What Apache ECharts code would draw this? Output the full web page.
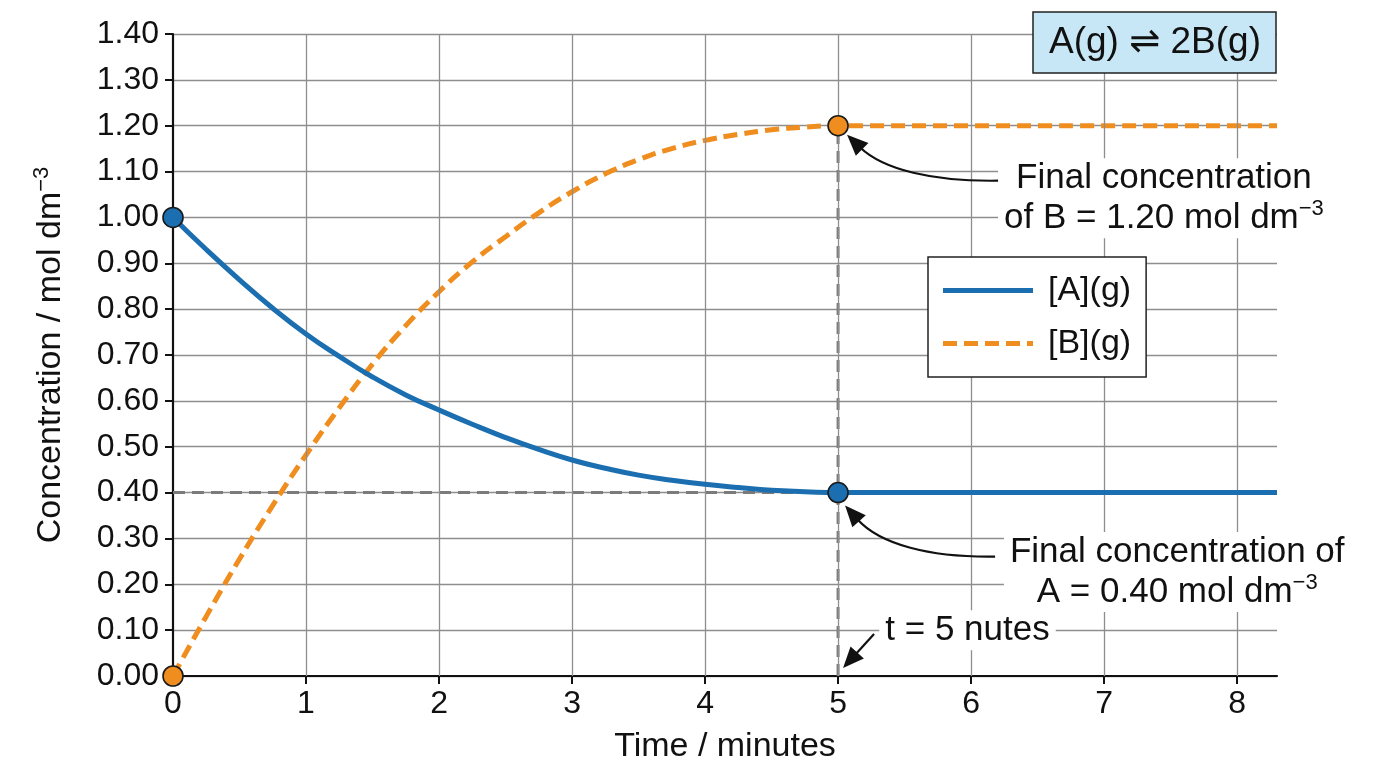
<!DOCTYPE html>
<html>
<head>
<meta charset="utf-8">
<title>A(g) ⇌ 2B(g)</title>
<style>
    html, body { margin: 0; padding: 0; background: #fff; overflow: hidden; }
    #conc-chart { width: 1376px; height: 768px; }
</style>
</head>
<body>
<div id="conc-chart"></div>

<script type="text/javascript" src="https://cdn.jsdelivr.net/npm/echarts@6/dist/echarts.min.js"></script>
<script type="text/javascript">
    // values (t in minutes)
    var timePoints = [0, 0.25, 0.5, 0.75, 1, 1.25, 1.5, 1.75, 2, 2.25, 2.5, 2.75, 3, 3.25, 3.5, 3.75, 4, 4.25, 4.5, 4.75, 5, 8.3]
    var concA = [1.000, 0.930, 0.864, 0.802, 0.746, 0.697, 0.652, 0.613, 0.580, 0.549, 0.520, 0.494, 0.471, 0.453, 0.438, 0.427, 0.418, 0.411, 0.405, 0.402, 0.400, 0.400]
    var concB = [0.000, 0.130, 0.255, 0.372, 0.482, 0.585, 0.680, 0.764, 0.838, 0.903, 0.958, 1.010, 1.056, 1.095, 1.126, 1.150, 1.168, 1.181, 1.191, 1.197, 1.200, 1.200]
    var xTickValues = [0, 1, 2, 3, 4, 5, 6, 7, 8]
    var markedIdx = [0, 20]   // start and equilibrium (t = 5)

    var FONT = "'Liberation Sans', Arial, Helvetica, 'DejaVu Sans', sans-serif"
    var BLUE = '#1b6fb0'
    var ORANGE = '#ef8e1f'
    var GRID = '#8e8e8e'
    var REF = '#7b7b7b'

    function pairs(xs, ys) {
        return xs.map(function (x, i) { return [x, ys[i]] })
    }
    function picked(xs, ys) {
        return markedIdx.map(function (i) { return [xs[i], ys[i]] })
    }

    var eqT = timePoints[markedIdx[1]]
    var eqA = concA[markedIdx[1]]
    var eqB = concB[markedIdx[1]]

    var chart = echarts.init(document.getElementById('conc-chart'))
    var option = {
        animation: false,
        textStyle: { fontFamily: FONT },
        grid: { left: 173, right: 99, top: 34, bottom: 92, containLabel: false, outerBoundsMode: 'none' },
        legend: {
            data: [
                { name: '[A](g)', icon: 'path://M0,0H90V5H0Z' },
                { name: '[B](g)', icon: 'path://M0,0H14V5H0Z M21,0H35V5H21Z M42,0H56V5H42Z M63,0H77V5H63Z M84,0H90V5H84Z' }
            ],
            orient: 'vertical',
            left: 928,
            top: 257,
            padding: [15, 15, 15, 15],
            itemWidth: 90,
            itemHeight: 5,
            itemGap: 16,
            backgroundColor: '#fff',
            borderColor: '#222',
            borderWidth: 1.5,
            borderRadius: 0,
            textStyle: { fontSize: 34, lineHeight: 37, color: '#111', fontFamily: FONT, padding: [0, 0, 0, 10] },
            z: 50
        },
        xAxis: {
            type: 'value',
            min: 0,
            max: 8.3,
            interval: 1,
            name: 'Time / minutes',
            nameLocation: 'middle',
            nameGap: 54,
            nameTextStyle: { fontSize: 34, color: '#111', fontFamily: FONT },
            axisLine: { show: true, onZero: false, lineStyle: { color: '#111', width: 2.2 } },
            axisTick: { show: true, length: 8, customValues: xTickValues, lineStyle: { color: '#111', width: 2 } },
            axisLabel: { fontSize: 32, color: '#111', margin: 12, customValues: xTickValues, fontFamily: FONT },
            splitLine: { show: false }
        },
        yAxis: {
            type: 'value',
            min: 0,
            max: 1.4,
            interval: 0.1,
            name: 'Concentration / mol dm{sup|−3}',
            nameLocation: 'middle',
            nameGap: 102,
            nameTextStyle: {
                fontSize: 34, color: '#111', fontFamily: FONT, lineHeight: 40,
                rich: { sup: { fontSize: 22, verticalAlign: 'top', lineHeight: 20, color: '#111', fontFamily: FONT } }
            },
            axisLine: { show: true, onZero: false, lineStyle: { color: '#111', width: 2.2 } },
            axisTick: { show: true, length: 8, lineStyle: { color: '#111', width: 2 } },
            axisLabel: {
                fontSize: 32, color: '#111', margin: 14, fontFamily: FONT,
                formatter: function (v) { return v.toFixed(2) }
            },
            splitLine: { show: true, lineStyle: { color: GRID, width: 1.3 } }
        },
        series: [
            {
                // vertical grid lines (keeps the 8.3 edge clear)
                name: 'vgrid',
                type: 'line',
                data: [],
                silent: true,
                z: 1,
                markLine: {
                    silent: true,
                    symbol: ['none', 'none'],
                    label: { show: false },
                    lineStyle: { color: GRID, width: 1.3, type: 'solid' },
                    data: xTickValues.slice(1).map(function (v) { return { xAxis: v } })
                }
            },
            {
                name: 'refA',
                type: 'line',
                data: [[0, eqA], [eqT, eqA]],
                symbol: 'none',
                silent: true,
                z: 2,
                lineStyle: { color: REF, width: 3, type: [12, 7] }
            },
            {
                name: 'refT',
                type: 'line',
                data: [[eqT, 0], [eqT, eqB]],
                symbol: 'none',
                silent: true,
                z: 2,
                lineStyle: { color: REF, width: 3, type: [12, 7] }
            },
            {
                name: '[A](g)',
                type: 'line',
                data: pairs(timePoints, concA),
                smooth: 0.5,
                symbol: 'none',
                color: BLUE,
                z: 5,
                lineStyle: { color: BLUE, width: 5 }
            },
            {
                name: '[B](g)',
                type: 'line',
                data: pairs(timePoints, concB),
                smooth: 0.5,
                symbol: 'none',
                color: ORANGE,
                z: 4,
                lineStyle: { color: ORANGE, width: 5, type: [14, 7] }
            },
            {
                name: 'ptsA',
                type: 'scatter',
                data: picked(timePoints, concA),
                symbolSize: 20,
                z: 10,
                itemStyle: { color: BLUE, borderColor: '#1a1a1a', borderWidth: 1.6, opacity: 1 }
            },
            {
                name: 'ptsB',
                type: 'scatter',
                data: picked(timePoints, concB),
                symbolSize: 20,
                z: 10,
                itemStyle: { color: ORANGE, borderColor: '#1a1a1a', borderWidth: 1.6, opacity: 1 }
            }
        ]
    }
    chart.setOption(option)

    // annotations, placed from data coordinates
    function px(x, y) { return chart.convertToPixel({ gridIndex: 0 }, [x, y]) }
    function add(p, dx, dy) { return [p[0] + dx, p[1] + dy] }

    function arrow(pts) {
        var s = pts[0], e = pts[pts.length - 1]
        var c = pts.length === 4 ? pts[2] : s
        var dx = e[0] - c[0], dy = e[1] - c[1]
        var len = Math.sqrt(dx * dx + dy * dy)
        dx /= len; dy /= len
        var head = 21, half = 9
        var bx = e[0] - dx * head, by = e[1] - dy * head
        var shaft
        if (pts.length === 4) {
            shaft = { type: 'bezierCurve', shape: {
                x1: s[0], y1: s[1], cpx1: pts[1][0], cpy1: pts[1][1],
                cpx2: pts[2][0], cpy2: pts[2][1], x2: bx + dx * 3, y2: by + dy * 3 } }
        } else {
            shaft = { type: 'line', shape: { x1: s[0], y1: s[1], x2: bx + dx * 3, y2: by + dy * 3 } }
        }
        shaft.style = { stroke: '#111', lineWidth: 2.2, fill: null }
        shaft.z = 100
        var tip = {
            type: 'polygon',
            shape: { points: [[e[0], e[1]], [bx - dy * half, by + dx * half], [bx + dy * half, by - dx * half]] },
            style: { fill: '#111' },
            z: 100
        }
        return [shaft, tip]
    }

    var pB = px(eqT, eqB)
    var pA = px(eqT, eqA)
    var pT = px(eqT, 0)
    var annB = px(7.45, 1.042)
    var annA = px(7.55, 0.227)
    var annT = px(5.31, 0.10)

    var textBase = { fill: '#111', fontFamily: FONT, fontSize: 35, lineHeight: 40 }
    var supStyle = { fontSize: 22, verticalAlign: 'top', lineHeight: 22, fill: '#111', fontFamily: FONT }

    var graphics = [
        {
            type: 'rect',
            shape: { x: 1033, y: 12, width: 243, height: 61 },
            style: { fill: '#c8e7f6', stroke: '#222', lineWidth: 1.5 },
            z: 60
        },
        {
            type: 'text',
            x: 1155, y: 43,
            style: Object.assign({}, textBase, { text: 'A(g) ⇌ 2B(g)', fontSize: 37, align: 'center', verticalAlign: 'middle' }),
            z: 61
        },
        {
            type: 'text',
            x: annB[0], y: annB[1],
            style: Object.assign({}, textBase, {
                text: 'Final concentration\nof B = 1.20 mol dm{sup|−3}',
                align: 'center', verticalAlign: 'middle',
                backgroundColor: '#fff', padding: [0, 6],
                rich: { sup: supStyle }
            }),
            z: 90
        },
        {
            type: 'text',
            x: annA[0], y: annA[1],
            style: Object.assign({}, textBase, {
                text: 'Final concentration of\nA = 0.40 mol dm{sup|−3}',
                align: 'center', verticalAlign: 'middle',
                backgroundColor: '#fff', padding: [0, 6],
                rich: { sup: supStyle }
            }),
            z: 90
        },
        {
            type: 'text',
            x: annT[0], y: annT[1],
            style: Object.assign({}, textBase, {
                text: 't = 5 nutes',
                align: 'left', verticalAlign: 'middle',
                backgroundColor: '#fff', padding: [0, 6]
            }),
            z: 90
        }
    ]
    graphics = graphics
        .concat(arrow([add(pB, 160, 55), add(pB, 95, 56), add(pB, 45, 44), add(pB, 9, 9)]))
        .concat(arrow([add(pA, 157, 64), add(pA, 92, 65), add(pA, 42, 52), add(pA, 7, 13)]))
        .concat(arrow([add(pT, 36, -42), add(pT, 5, -8)]))

    chart.setOption({ graphic: graphics })
</script>
</body>
</html>
